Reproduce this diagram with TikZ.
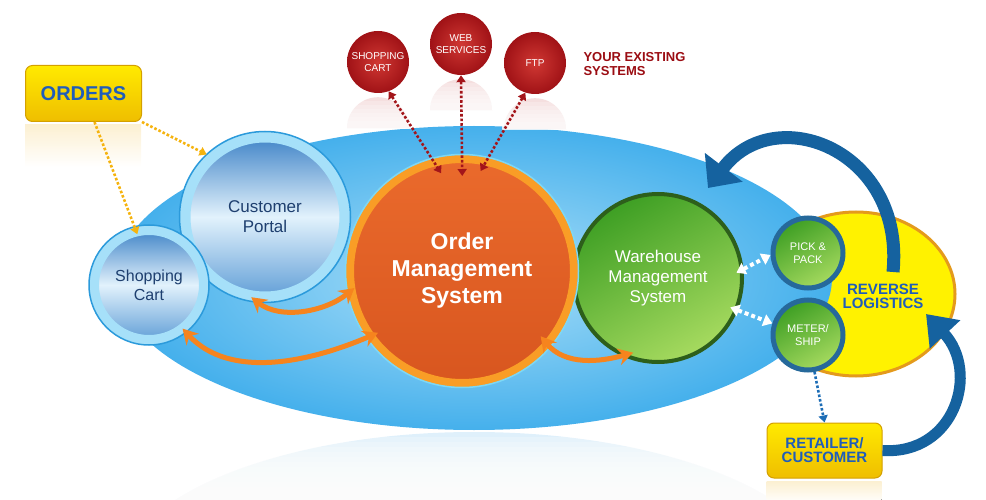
\documentclass[tikz,border=0pt]{standalone}
\usepackage{fontspec}
\setmainfont{Liberation Sans}
\usetikzlibrary{arrows.meta,positioning,shapes.geometric}

\definecolor{hubdark}{HTML}{45B0EC}
\definecolor{hublight}{HTML}{ABDFF8}
\definecolor{hubrefl}{HTML}{D6ECFA}
\definecolor{ylw}{HTML}{FFF200}
\definecolor{ylwrim}{HTML}{E49A1C}
\definecolor{omstop}{HTML}{EA6A2C}
\definecolor{omsbot}{HTML}{D8561F}
\definecolor{omsrim}{HTML}{F99D26}
\definecolor{omsedge}{HTML}{7DD8F5}
\definecolor{cpring}{HTML}{A6E0F9}
\definecolor{cpedge}{HTML}{2B9ADB}
\definecolor{cptop}{HTML}{4285C8}
\definecolor{cpmid}{HTML}{E2F2FC}
\definecolor{cpbot}{HTML}{629FD7}
\definecolor{cptext}{HTML}{1E3F6F}
\definecolor{wmstop}{HTML}{3E9F24}
\definecolor{wmsbot}{HTML}{A6DA5F}
\definecolor{wmsrim}{HTML}{2D5F1B}
\definecolor{smallrim}{HTML}{26699B}
\definecolor{redin}{HTML}{D03833}
\definecolor{redout}{HTML}{A01216}
\definecolor{redrefl}{HTML}{F3D6D6}
\definecolor{boxtop}{HTML}{FFEA00}
\definecolor{boxbot}{HTML}{EFBE00}
\definecolor{boxrim}{HTML}{D4A000}
\definecolor{boxrefl}{HTML}{FCF0D2}
\definecolor{orderblue}{HTML}{1F5DBA}
\definecolor{arrorange}{HTML}{F6841E}
\definecolor{dotgold}{HTML}{F5B30E}
\definecolor{dotred}{HTML}{A3151A}
\definecolor{dotblue}{HTML}{1D6DB6}
\definecolor{bigblue}{HTML}{15629F}
\definecolor{sysred}{HTML}{9B0D13}

\begin{document}
\begin{tikzpicture}[x=1pt, y=-1pt,
  hub/.style={ellipse, inner sep=0pt, minimum width=716pt, minimum height=304pt, inner color=hublight, outer color=hubdark},
  revell/.style={ellipse, inner sep=0pt, minimum width=198pt, minimum height=164pt, draw=ylwrim, line width=3pt, fill=ylw},
  cpball/.style={circle, inner sep=0pt, draw=cpring, top color=cptop, bottom color=cpbot, middle color=cpmid, text=cptext, align=center},
  omsball/.style={circle, inner sep=0pt, minimum size=224pt, draw=omsrim, line width=8pt, top color=omstop, bottom color=omsbot, text=white, align=center, font=\fontsize{23}{27}\selectfont\bfseries},
  greenball/.style={circle, inner sep=0pt, draw=wmsrim, top color=wmstop, bottom color=wmsbot, shading angle=30, text=white, align=center},
  redball/.style={circle, inner sep=0pt, minimum size=62pt, inner color=redin, outer color=redout, text=white, align=center, font=\fontsize{10}{12}\selectfont},
  ybox/.style={rounded corners=7pt, draw=boxrim, line width=1pt, top color=boxtop, bottom color=boxbot, text=orderblue, align=center, minimum width=116pt, minimum height=56pt, inner sep=0pt},
  fat/.style={draw=arrorange, line width=5pt, {Stealth[length=15pt,width=17pt,inset=5pt]}-{Stealth[length=15pt,width=17pt,inset=5pt]}},
  bigarrow/.style={draw=bigblue, line width=11pt, -{Triangle[length=28pt,width=40pt]}},
  golddots/.style={draw=dotgold, line width=2.6pt, dash pattern=on 2.6pt off 2pt, -{Triangle[length=7pt,width=9pt]}},
  reddots/.style={draw=dotred, line width=2.6pt, dash pattern=on 2.6pt off 2pt, {Triangle[length=7pt,width=9pt]}-{Triangle[length=7pt,width=9pt]}},
  whitedots/.style={draw=white, line width=4pt, dash pattern=on 4pt off 3pt, {Triangle[length=9pt,width=12pt]}-{Triangle[length=9pt,width=12pt]}},
  bluedots/.style={draw=dotblue, line width=2.6pt, dash pattern=on 2.6pt off 2pt, -{Triangle[length=7pt,width=9pt]}},
  fadeband/.style={white, opacity=0.22}]
\useasboundingbox (0,0) rectangle (986,500);

% reflection of the hub
\fill[hubrefl] (474,584) ellipse [x radius=358pt, y radius=152pt];
\foreach \k in {0,...,13}
  \fill[fadeband] (0,432+5*\k) rectangle (986,500);

\node[revell] (rl) at (856,294) {};
\node[hub] (hub) at (474,278) {};

\node[cpball, minimum size=160pt, line width=11pt, font=\fontsize{17}{20}\selectfont] (cp) at (265,217) {Customer\\Portal};
\draw[cpedge, line width=1.5pt] (cp.center) circle[radius=85.5pt];
\node[cpball, minimum size=110pt, line width=10pt, font=\fontsize{16}{19}\selectfont] (sc) at (149,285) {Shopping\\Cart};
\draw[cpedge, line width=1.5pt] (sc.center) circle[radius=60pt];
\node[greenball, minimum size=168pt, line width=4pt, font=\fontsize{17}{20}\selectfont] (wms) at (658,278) {Warehouse\\Management\\System};
\node[omsball] (oms) at (462,271) {Order\\Management\\System};
\draw[omsedge, line width=1.5pt] (oms.center) circle[radius=116.5pt];
\node[greenball, draw=smallrim, minimum size=70pt, line width=5pt, font=\fontsize{11}{13}\selectfont] (pp) at (808,253) {PICK \&\\PACK};
\node[greenball, draw=smallrim, minimum size=70pt, line width=5pt, font=\fontsize{11}{13}\selectfont] (ms) at (808,335) {METER/\\SHIP};

\node[text=orderblue, align=center, font=\fontsize{15}{14}\selectfont\bfseries] (rltext) at (883,296) {REVERSE\\LOGISTICS};

\node[redball] (rsc) at (378,62) {SHOPPING\\CART};
\node[redball] (rws) at (461,44) {WEB\\SERVICES};
\node[redball] (rftp) at (535,63) {FTP};
\node[anchor=west, text=sysred, align=left, font=\fontsize{13}{14}\selectfont\bfseries] (sys) at (580,64) {YOUR EXISTING\\SYSTEMS};
\foreach \r in {rsc,rws,rftp}{
  \fill[redrefl] ([yshift=-3pt]\r.south) ++(-31,32) arc[start angle=180, end angle=0, radius=31pt] -- cycle;
  \foreach \k in {1,...,7}
    \fill[fadeband] ([xshift=-33pt, yshift=-4pt*\k]\r.south) rectangle ([xshift=33pt, yshift=-36pt]\r.south);
}

\node[ybox, font=\fontsize{20}{22}\selectfont\bfseries] (ord) at (83.5,93.5) {ORDERS};
\fill[top color=boxrefl, bottom color=white] ([yshift=-3pt]ord.south west) rectangle ++(116,42);
\node[ybox, font=\fontsize{15}{14}\selectfont\bfseries, minimum width=115pt, minimum height=55pt] (rc) at (824.5,450.5) {RETAILER/\\CUSTOMER};
\fill[top color=boxrefl, bottom color=white] ([yshift=-3pt]rc.south west) rectangle ++(115,22);

\draw[golddots] (ord.south east) -- (cp.133);
\draw[golddots, shorten >=-8pt] ([xshift=11pt]ord.south) -- (sc.104);
\draw[reddots, shorten >=-17pt] (rsc.-70) -- (oms.105);
\draw[reddots, shorten >=-21pt] (rws.south) -- (oms.north);
\draw[reddots, shorten >=-15pt] (rftp.-108) -- (oms.77);
\draw[whitedots, shorten <=-8pt] (wms.6) -- (pp.183);
\draw[whitedots, shorten <=-8pt] (wms.-22) -- (ms.162);
\draw[bluedots] (ms.-80) -- (rc.north);

\draw[fat, shorten <=-8pt, shorten >=-8pt] (cp.-95) .. controls (280,320) and (325,312) .. (oms.191);
\draw[fat, shorten <=-5pt, shorten >=-12pt] (sc.-52) .. controls (230,380) and (310,362) .. (oms.215);
\draw[fat, shorten <=-14pt, shorten >=-12pt] (oms.-41) .. controls (565,366) and (600,362) .. (wms.-115);

\coordinate (rlin) at (893,272);
\coordinate (hubin) at (708,188);
\coordinate (rlin2) at (926,314);
\draw[bigarrow, line width=13pt, -{Triangle[length=26pt,width=46pt]}] (rlin) .. controls (905,150) and (775,100) .. (hubin);
\draw[bigarrow] (rc.east) .. controls (955,455) and (980,372) .. (rlin2);
\end{tikzpicture}
\end{document}
